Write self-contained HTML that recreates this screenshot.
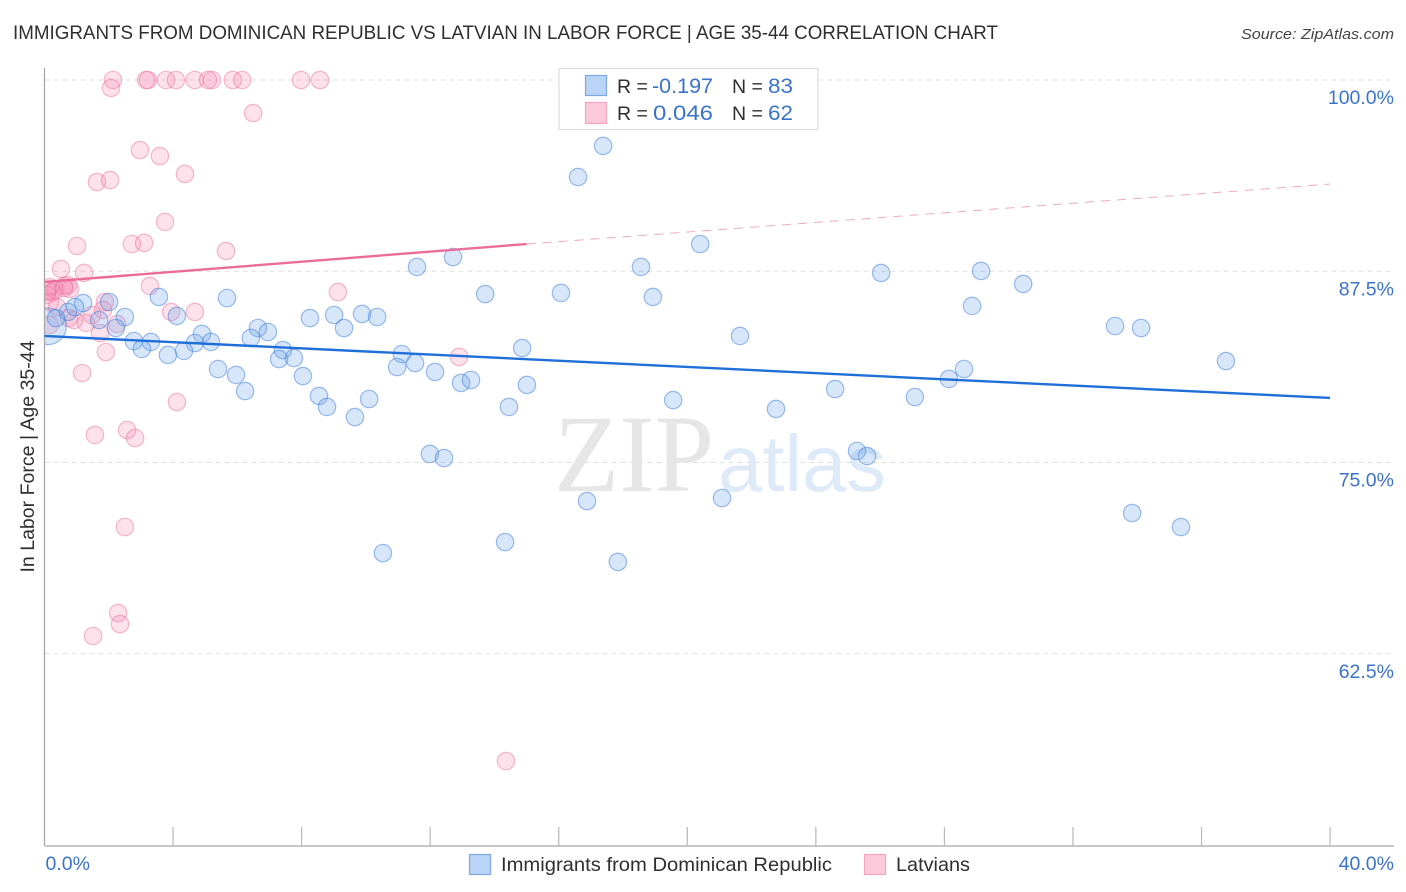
<!DOCTYPE html>
<html lang="en">
<head>
<meta charset="utf-8">
<title>Immigrants from Dominican Republic vs Latvian in Labor Force | Age 35-44 Correlation Chart</title>
<style>
html,body{margin:0;padding:0;background:#fff;}
svg{display:block;font-family:"Liberation Sans",sans-serif;}
</style>
</head>
<body>
<svg id="chart" width="1406" height="892" viewBox="0 0 1406 892" xmlns="http://www.w3.org/2000/svg">
  <defs>
    <clipPath id="plot-clip"><rect x="45" y="60" width="1349" height="786"/></clipPath>
  </defs>
  <rect x="0" y="0" width="1406" height="892" fill="#fff"/>
  <text x="13" y="39" font-size="19.5" fill="#2f2f33" textLength="985" lengthAdjust="spacingAndGlyphs">IMMIGRANTS FROM DOMINICAN REPUBLIC VS LATVIAN IN LABOR FORCE | AGE 35-44 CORRELATION CHART</text>
  <text x="1394" y="39" font-size="15" font-style="italic" fill="#444" text-anchor="end" textLength="153" lengthAdjust="spacingAndGlyphs">Source: ZipAtlas.com</text>
  <g id="grid"></g>
  <g>
    <text x="554" y="491" font-family="'Liberation Serif',serif" font-size="110" fill="#e6e6e6" textLength="160" lengthAdjust="spacingAndGlyphs">ZIP</text>
    <text x="718" y="491" font-size="80" fill="#dfeaf8" textLength="168" lengthAdjust="spacingAndGlyphs">atlas</text>
  </g>
  <g id="axes"></g>
  <g id="points-pink" clip-path="url(#plot-clip)"></g>
  <g id="points-blue" clip-path="url(#plot-clip)"></g>
  <g id="trends"></g>
  <g>
    <rect x="559" y="68.5" width="259" height="61" fill="#fff" stroke="#ddd" stroke-width="1.2"/>
    <rect x="585.5" y="75.5" width="21" height="20" fill="#b9d4f7" stroke="#7fa9e2" stroke-width="1.2"/>
    <rect x="585.5" y="102.5" width="21" height="21" fill="#fbc9da" stroke="#f2a5bf" stroke-width="1.2"/>
    <text x="617" y="93" font-size="19.5" fill="#2f2f33">R =</text>
    <text x="652" y="93" font-size="21.5" fill="#3b73cc" textLength="61" lengthAdjust="spacingAndGlyphs">-0.197</text>
    <text x="732" y="93" font-size="19.5" fill="#2f2f33">N =</text>
    <text x="768" y="93" font-size="21.5" fill="#3b73cc" textLength="25" lengthAdjust="spacingAndGlyphs">83</text>
    <text x="617" y="120" font-size="19.5" fill="#2f2f33">R =</text>
    <text x="653" y="120" font-size="21.5" fill="#3b73cc" textLength="60" lengthAdjust="spacingAndGlyphs">0.046</text>
    <text x="732" y="120" font-size="19.5" fill="#2f2f33">N =</text>
    <text x="768" y="120" font-size="21.5" fill="#3b73cc" textLength="25" lengthAdjust="spacingAndGlyphs">62</text>
  </g>
  <g>
    <rect x="469.5" y="854.5" width="21" height="20" fill="#b9d4f7" stroke="#7fa9e2" stroke-width="1.2"/>
    <text x="501" y="871" font-size="19.5" fill="#2f2f33" textLength="331" lengthAdjust="spacingAndGlyphs">Immigrants from Dominican Republic</text>
    <rect x="864.5" y="854.5" width="21" height="20" fill="#fbc9da" stroke="#f2a5bf" stroke-width="1.2"/>
    <text x="896" y="871" font-size="19.5" fill="#2f2f33" textLength="74" lengthAdjust="spacingAndGlyphs">Latvians</text>
  </g>
  <text transform="translate(34,456.5) rotate(-90)" font-size="19" fill="#2f2f33" text-anchor="middle" textLength="232" lengthAdjust="spacingAndGlyphs">In Labor Force | Age 35-44</text>
</svg>
<script>
const yTickValues = [100, 87.5, 75, 62.5];
const yTickLabels = ["100.0%", "87.5%", "75.0%", "62.5%"];
const xTickValues = [4, 8, 12, 16, 20, 24, 28, 32, 36, 40];
const xEndValues = [0, 40];
const xEndLabels = ["0.0%", "40.0%"];

const blueX = [0.11,17.38,16.60,20.40,12.71,11.59,18.56,26.03,29.14,30.45,13.71,16.07,18.93,28.86,5.68,2.01,1.20,3.56,0.73,0.36,0.95,1.70,2.50,4.12,2.22,8.26,9.01,9.88,10.35,9.32,6.64,6.95,4.90,6.42,33.31,34.12,21.64,2.78,3.31,3.03,4.68,5.18,4.34,3.84,7.42,7.30,7.76,14.86,11.12,10.97,11.53,12.15,5.40,5.96,6.24,8.04,8.54,8.79,9.66,10.10,12.96,13.27,15.01,14.45,19.56,22.76,24.60,27.08,28.14,28.61,36.76,11.99,12.43,25.28,25.59,16.88,21.08,33.84,35.36,14.33,10.53,17.84];
const blueY = [83.9,95.69,93.66,89.28,88.43,87.78,87.78,87.39,87.52,86.67,86.01,86.08,85.82,85.23,85.75,85.49,85.42,85.82,84.84,84.44,85.16,84.31,84.51,84.58,83.79,84.44,84.64,84.71,84.51,83.79,83.79,83.53,83.40,83.14,83.92,83.79,83.27,82.94,82.88,82.42,82.81,82.88,82.29,82.03,82.35,81.76,81.83,82.48,82.09,81.24,81.50,80.92,81.11,80.72,79.67,80.65,79.35,78.63,77.97,79.15,80.20,80.39,80.07,78.63,79.08,78.50,79.80,79.28,80.46,81.11,81.63,75.56,75.29,75.75,75.42,72.48,72.68,71.70,70.78,69.80,69.08,68.50];
const blueCounts = [4.2];

const pinkX = [2.13,3.16,3.22,3.78,4.09,4.68,5.09,5.21,5.86,6.15,7.98,8.57,2.07,6.49,2.97,3.59,4.37,1.63,2.04,3.75,1.01,2.72,3.10,5.65,0.51,1.23,3.28,9.13,0.23,0.17,0.33,0.61,0.73,0.79,0.08,0.17,0.39,0.76,0.92,1.29,1.48,1.88,1.82,2.26,1.73,3.94,4.68,1.91,12.90,1.17,4.12,2.57,1.57,2.82,2.50,2.29,2.35,1.51,14.36,0.17,0.61,0.08];
const pinkY = [100,100,100,100,100,100,100,100,100,100,100,100,99.48,97.84,95.42,95.03,93.86,93.33,93.46,90.72,89.15,89.28,89.35,88.82,87.65,87.39,86.54,86.14,86.14,86.47,86.27,86.54,86.60,86.34,85.95,85.49,85.16,84.44,84.31,84.12,84.64,85.49,84.97,84.05,83.46,84.84,84.84,82.22,81.90,80.85,78.95,77.12,76.80,76.60,70.78,65.16,64.44,63.66,55.49,84.0,86.4,86.2];

const blueTrendX = [0, 40];
const blueTrendY = [83.27, 79.22];
const pinkTrendSolidX = [0, 15];
const pinkTrendSolidY = [86.80, 89.28];
const pinkTrendDashX = [15, 40];
const pinkTrendDashY = [89.28, 93.2];

const NS = "http://www.w3.org/2000/svg";
const xScale = v => 44.5 + v * 32.14;
const yScale = v => 80 + (100 - v) * 15.3;
const PLOT_LEFT = 44.5, PLOT_RIGHT = 1394, PLOT_TOP = 68, PLOT_BOTTOM = 846;

function make(tag, attrs, parent, text) {
  const el = document.createElementNS(NS, tag);
  for (const k in attrs) el.setAttribute(k, attrs[k]);
  if (text !== undefined) el.textContent = text;
  parent.appendChild(el);
  return el;
}

const grid = document.getElementById("grid");
const axes = document.getElementById("axes");

yTickValues.forEach((v, i) => {
  const line = make("line", {x1: PLOT_LEFT, x2: PLOT_RIGHT, y1: yScale(v), y2: yScale(v), stroke: "#dfdfdf", "stroke-width": 1, "stroke-dasharray": "5 4"}, grid);
  
  
  const label = make("text", {x: 1394, y: yScale(v) + 24, "font-size": 19.5, fill: "#3b73cc", "text-anchor": "end"}, axes, yTickLabels[i]);
  
  
});

const yAxis = make("line", {x1: PLOT_LEFT, x2: PLOT_LEFT, y1: PLOT_TOP, y2: PLOT_BOTTOM, stroke: "#a8a8a8", "stroke-width": 1.3}, axes);


const xAxis = make("line", {x1: PLOT_LEFT, x2: PLOT_RIGHT, y1: PLOT_BOTTOM, y2: PLOT_BOTTOM, stroke: "#a8a8a8", "stroke-width": 1.3}, axes);



xTickValues.forEach(v => {
  const tick = make("line", {x1: xScale(v), x2: xScale(v), y1: 827, y2: PLOT_BOTTOM, stroke: "#b8b8b8", "stroke-width": 1.2}, axes);
  
  
});

xEndValues.forEach((v, i) => {
  const label = make("text", {x: i === 0 ? xScale(v) + 1 : 1394, y: 870, "font-size": 19.5, fill: "#3b73cc", "text-anchor": i === 0 ? "start" : "end"}, axes, xEndLabels[i]);
  
  
});

const pinkGroup = document.getElementById("points-pink");
pinkX.forEach((x, i) => {
  const c = make("circle", {cx: xScale(x), cy: yScale(pinkY[i]), r: 8.7, fill: "rgba(246,130,170,0.24)", stroke: "rgba(236,120,160,0.5)", "stroke-width": 1.2}, pinkGroup);
  
  
});

const blueGroup = document.getElementById("points-blue");
blueX.forEach((x, i) => {
  const radius = i < blueCounts.length ? 8.7 * blueCounts[i] / 2 : 8.7;
  const c = make("circle", {cx: xScale(x), cy: yScale(blueY[i]), r: radius, fill: "rgba(110,165,235,0.28)", stroke: "rgba(60,125,220,0.5)", "stroke-width": 1.2}, blueGroup);
  
  
});

const trends = document.getElementById("trends");
const pinkDash = make("line", {x1: xScale(pinkTrendDashX[0]), y1: yScale(pinkTrendDashY[0]), x2: xScale(pinkTrendDashX[1]), y2: yScale(pinkTrendDashY[1]), stroke: "#f0a8c2", "stroke-width": 1, "stroke-dasharray": "9 7"}, trends);


const pinkSolid = make("line", {x1: xScale(pinkTrendSolidX[0]), y1: yScale(pinkTrendSolidY[0]), x2: xScale(pinkTrendSolidX[1]), y2: yScale(pinkTrendSolidY[1]), stroke: "#ea6c98", "stroke-width": 2.4}, trends);


const blueTrend = make("line", {x1: xScale(blueTrendX[0]), y1: yScale(blueTrendY[0]), x2: xScale(blueTrendX[1]), y2: yScale(blueTrendY[1]), stroke: "#1f6fd8", "stroke-width": 2.4}, trends);


</script>
</body>
</html>
